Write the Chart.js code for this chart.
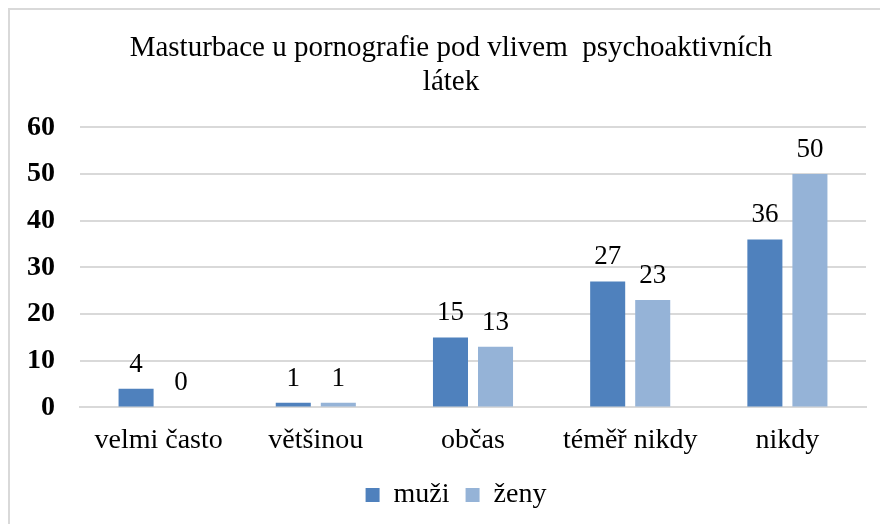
<!DOCTYPE html>
<html>
<head>
<meta charset="utf-8">
<script src="https://cdn.jsdelivr.net/npm/chart.js@4"></script>
<style>
  body { margin: 0; background: #fff; font-family: 'Liberation Serif', serif; }
  #wrap { position: relative; width: 880px; height: 524px; }
  #frame { position: absolute; left: 8px; top: 8px; right: 0; bottom: 0;
    border-left: 2px solid #d9d9d9; border-top: 2px solid #d9d9d9; pointer-events: none; }
  #warm { position: absolute; left: -999px; top: 0; }
</style>
</head>
<body>
<div id="wrap">
  <canvas id="myChart" width="880" height="524"></canvas>
  <div id="frame"></div>
</div>
<div id="warm">čě <b>60</b></div>
<script>
const categories = ["velmi často", "většinou", "občas", "téměř nikdy", "nikdy"];
const muzi = [4, 1, 15, 27, 36];
const zeny = [0, 1, 13, 23, 50];
const titleLines = ["Masturbace u pornografie pod vlivem  psychoaktivních", "látek"];

const serif = "'Liberation Serif', serif";

// draws the number above each bar
const valueLabels = {
  id: "valueLabels",
  afterDatasetsDraw(chart) {
    let ctx = chart.ctx;
    ctx.save();
    ctx.font = "27px " + serif;
    ctx.fillStyle = "#000";
    ctx.textAlign = "center";
    ctx.textBaseline = "alphabetic";
    chart.data.datasets.forEach((ds, i) => {
      chart.getDatasetMeta(i).data.forEach((bar, j) => {
        ctx.fillText(ds.data[j], bar.x, bar.y - 17);
      });
    });
    ctx.restore();
  }
};

// nudge title and legend to the right, like the original sheet
const nudge = {
  id: "nudge",
  afterLayout(chart) {
    chart.titleBlock.left += 17;
    chart.titleBlock.right += 17;
    chart.legend.left += 22;
    chart.legend.right += 22;
  }
};

function drawChart() {
  new Chart(document.getElementById("myChart").getContext("2d"), {
    type: "bar",
    data: {
      labels: categories,
      datasets: [
        { label: "muži", data: muzi, backgroundColor: "#4F81BD",
          categoryPercentage: 0.573, barPercentage: 0.778 },
        { label: "ženy", data: zeny, backgroundColor: "#95B3D7",
          categoryPercentage: 0.573, barPercentage: 0.778 }
      ]
    },
    options: {
      responsive: false,
      animation: false,
      layout: { padding: { left: 2, right: 14, top: 31, bottom: 5 } },
      plugins: {
        title: {
          display: true,
          text: titleLines,
          color: "#000",
          font: { family: serif, size: 29, weight: "normal", lineHeight: 1.18 },
          padding: { top: 0, bottom: 28 }
        },
        legend: {
          position: "bottom",
          labels: {
            color: "#000",
            font: { family: serif, size: 28 },
            boxWidth: 14, boxHeight: 14, padding: 16
          }
        },
        tooltip: { enabled: false }
      },
      scales: {
        x: {
          grid: { display: false },
          border: { color: "#d9d9d9", width: 2 },
          ticks: { color: "#000", font: { family: serif, size: 28 }, padding: 8 }
        },
        y: {
          min: 0, max: 60,
          ticks: { stepSize: 10, color: "#000", padding: 25,
            font: { family: serif, size: 28, weight: "bold" } },
          grid: { color: "#d9d9d9", lineWidth: 2, drawTicks: false },
          border: { display: false }
        }
      }
    },
    plugins: [valueLabels, nudge]
  });
}

Promise.all([
  document.fonts.load("28px 'Liberation Serif'"),
  document.fonts.load("bold 28px 'Liberation Serif'")
]).then(drawChart, drawChart);
</script>
</body>
</html>
